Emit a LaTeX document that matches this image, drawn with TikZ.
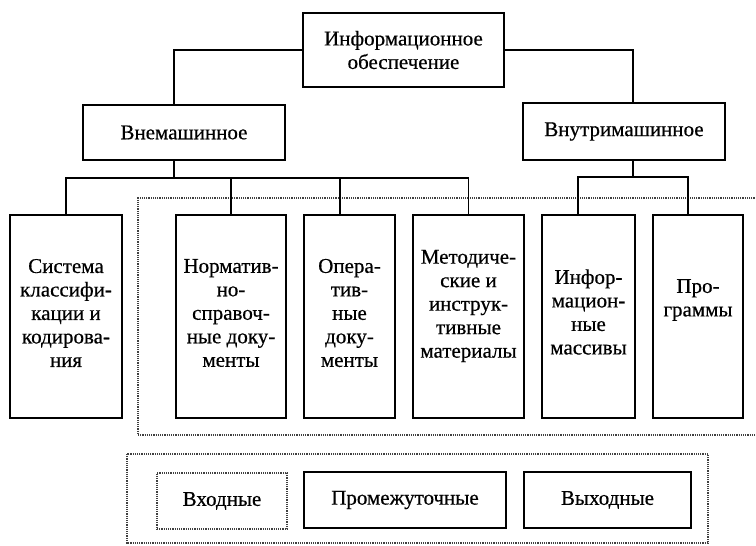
\documentclass[tikz,border=0pt]{standalone}
\usepackage{fontspec}
\setmainfont{Liberation Serif}[FakeBold=0.5]
\begin{document}
\begin{tikzpicture}[x=1pt,y=-1pt,
  box/.style={draw, line width=1.5pt, fill=white, inner sep=0pt},
  txt/.style={align=center, font=\fontsize{21}{23.5}\selectfont, inner sep=0pt},
  dots/.style={draw=black!75, line width=1.2pt, densely dotted},
  wire/.style={line width=1.4pt}]
\useasboundingbox (0,0) rectangle (756,546);
% dotted groups
\draw[dots] (770,198) -- (138,198) -- (138,435) -- (770,435);
\draw[dots] (127,454) rectangle (708,543);
% boxes
\node[box, txt, minimum width=201pt, minimum height=74pt] (top) at (403.5,50) {Информационное\\обеспечение};
\node[box, txt, minimum width=202pt, minimum height=55pt] (vne) at (184,132.5) {Внемашинное};
\node[box, txt, minimum width=202pt, minimum height=57pt] (vnu) at (624,131.5) {Внутримашинное};
\coordinate (bl) at (174,178);
\coordinate (br) at (633,177);
\node[box, minimum width=112pt, minimum height=203pt] (sys) at (66,316.5) {};
\node[box, minimum width=110pt, minimum height=203pt] (norm) at (231,316.5) {};
\node[box, minimum width=91pt, minimum height=203pt] (oper) at (349.5,316.5) {};
\node[box, minimum width=111pt, minimum height=203pt] (met) at (468.5,316.5) {};
\node[box, minimum width=93pt, minimum height=203pt] (inf) at (588.5,316.5) {};
\node[box, minimum width=90pt, minimum height=203pt] (prog) at (698,316.5) {};
\node[txt] (syst) at (66,313) {Система\\классифи-\\кации и\\кодирова-\\ния};
\node[txt] (normt) at (231,313) {Норматив-\\но-\\справоч-\\ные доку-\\менты};
\node[txt] (opert) at (349.5,313) {Опера-\\тив-\\ные\\доку-\\менты};
\node[txt] (mett) at (468.5,306) {Методиче-\\ские и\\инструк-\\тивные\\материалы};
\node[txt] (inft) at (588.5,312) {Инфор-\\мацион-\\ные\\массивы};
\node[txt] (progt) at (698,300) {Про-\\граммы};
% bottom
\node[box, dots, fill=none, txt, minimum width=130pt, minimum height=56pt] (vx) at (222,501) {Входные};
\node[box, txt, minimum width=202pt, minimum height=56pt] (pr) at (405,500) {Промежуточные};
\node[box, txt, minimum width=167pt, minimum height=56pt] (vy) at (607.5,500) {Выходные};
% connectors
\draw[wire] (top.west) -| ([xshift=-10pt]vne.north);
\draw[wire] (top.east) -| ([xshift=9pt]vnu.north);
\draw[wire] ([xshift=-10pt]vne.south) -- (bl);
\draw[wire] (sys.north) |- (met.north |- bl) -- (met.north);
\draw[wire] (norm.north) -- (norm.north |- bl);
\draw[wire] ([xshift=-9.5pt]oper.north) -- ([xshift=-9.5pt]oper.north |- bl);
\draw[wire] ([xshift=9pt]vnu.south) -- (br);
\draw[wire] ([xshift=-10.5pt]inf.north) |- (br) -| ([xshift=-10pt]prog.north);
\end{tikzpicture}
\end{document}
